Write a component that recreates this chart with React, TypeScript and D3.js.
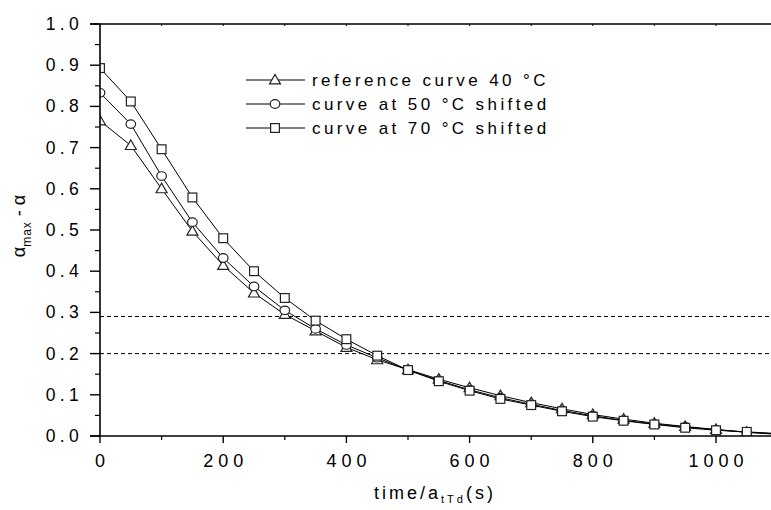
import React from "react";
import * as d3 from "d3";

// time / a_tTd (s)
const times = [0, 50, 100, 150, 200, 250, 300, 350, 400, 450, 500, 550, 600, 650, 700, 750, 800, 850, 900, 950, 1000, 1050, 1100];
// alpha_max - alpha for each curve
const ref40 = [0.765, 0.705, 0.6, 0.497, 0.414, 0.347, 0.295, 0.255, 0.215, 0.185, 0.161, 0.138, 0.117, 0.098, 0.081, 0.066, 0.052, 0.041, 0.031, 0.023, 0.016, 0.009, 0.004];
const shift50 = [0.833, 0.757, 0.631, 0.519, 0.432, 0.363, 0.305, 0.26, 0.221, 0.19, 0.16, 0.135, 0.112, 0.093, 0.077, 0.062, 0.049, 0.038, 0.029, 0.022, 0.015, 0.009, 0.005];
const shift70 = [0.893, 0.812, 0.696, 0.579, 0.48, 0.4, 0.335, 0.28, 0.235, 0.195, 0.16, 0.133, 0.11, 0.09, 0.075, 0.06, 0.047, 0.037, 0.028, 0.02, 0.014, 0.01, 0.006];
const seriesNames = ["reference curve 40 °C", "curve at 50 °C shifted", "curve at 70 °C shifted"];
const seriesShapes = ["triangle", "circle", "square"];
const refLevels = [0.29, 0.2];
const xTickValues = [0, 200, 400, 600, 800, 1000];
const yTickValues = [0, 0.1, 0.2, 0.3, 0.4, 0.5, 0.6, 0.7, 0.8, 0.9, 1.0];

const W = 771;
const H = 510;
const left = 100;
const top = 24;
const bottom = 436;

const x = d3.scaleLinear().domain([0, 1100]).range([left, left + 1100 * 0.616]);
const y = d3.scaleLinear().domain([0, 1]).range([bottom, top]);

const font = "'Liberation Sans', Arial, sans-serif";

function Marker({ shape, cx, cy }: { shape: string; cx: number; cy: number }) {
  const st = { fill: "#fff", stroke: "#222", strokeWidth: 1.2 };
  if (shape === "circle") return <ellipse cx={cx} cy={cy} rx={4.8} ry={4.3} {...st} />;
  if (shape === "square") return <rect x={cx - 4.4} y={cy - 4.4} width={8.8} height={8.8} {...st} />;
  const p = d3.symbol(d3.symbolTriangle, 52)();
  return <path d={p || ""} transform={`translate(${cx},${cy + 0.8})`} {...st} />;
}

export default function App() {
  const series = [ref40, shift50, shift70];
  const line = d3
    .line<number>()
    .x((_, i) => x(times[i]))
    .y((d) => y(d));
  const xMinor = d3.range(100, 1101, 200);
  const yMinor = d3.range(0.05, 1, 0.1);
  const topTicks = d3.range(100, 1101, 100);

  return (
    <svg width={W} height={H} style={{ position: "absolute", left: 0, top: 0, background: "#fff" }}>
      <defs>
        <clipPath id="plot">
          <rect x={left} y={top - 6} width={W - left} height={bottom - top + 6} />
        </clipPath>
      </defs>

      {/* reference levels */}
      {refLevels.map((v) => (
        <line key={v} x1={left} x2={W} y1={y(v)} y2={y(v)} stroke="#000" strokeWidth={1} strokeDasharray="4,3" />
      ))}

      {/* curves */}
      <g clipPath="url(#plot)">
        {series.map((s, k) => (
          <path key={k} d={line(s) || ""} fill="none" stroke="#000" strokeWidth={1} />
        ))}
        {series.map((s, k) => (
          <g key={k}>
            {s.map((v, i) => (
              <Marker key={i} shape={seriesShapes[k]} cx={x(times[i])} cy={y(v)} />
            ))}
          </g>
        ))}
      </g>

      {/* axes */}
      <line x1={left - 10} x2={W} y1={top} y2={top} stroke="#000" strokeWidth={1.6} />
      {topTicks.map((v) => (
        <line key={v} x1={x(v)} x2={x(v)} y1={top} y2={top + 2} stroke="#000" strokeWidth={1} />
      ))}
      <line x1={left} x2={left} y1={top} y2={bottom} stroke="#000" strokeWidth={1.6} />
      <line x1={left - 10} x2={W} y1={bottom} y2={bottom} stroke="#000" strokeWidth={1.6} />

      {yTickValues.map((v) => (
        <g key={v}>
          <line x1={left - 10} x2={left} y1={y(v)} y2={y(v)} stroke="#000" strokeWidth={1.4} />
          <text
            x={83}
            y={y(v) + 6}
            textAnchor="end"
            fontFamily={font}
            fontSize={17.5}
            letterSpacing={4.3}
            fill="#000"
          >
            {d3.format(".1f")(v)}
          </text>
        </g>
      ))}
      {yMinor.map((v) => (
        <line key={v} x1={left - 5} x2={left} y1={y(v)} y2={y(v)} stroke="#000" strokeWidth={1.2} />
      ))}

      {xTickValues.map((v) => (
        <g key={v}>
          <line x1={x(v)} x2={x(v)} y1={bottom} y2={bottom + 7} stroke="#000" strokeWidth={1.4} />
          <text
            x={x(v) + 2.5}
            y={467}
            textAnchor="middle"
            fontFamily={font}
            fontSize={18}
            letterSpacing={5}
            fill="#000"
          >
            {v}
          </text>
        </g>
      ))}
      {xMinor.map((v) => (
        <line key={v} x1={x(v)} x2={x(v)} y1={bottom} y2={bottom + 4} stroke="#000" strokeWidth={1.2} />
      ))}

      {/* axis titles */}
      <text x={374} y={499} fontFamily={font} fontSize={18} letterSpacing={3} fill="#000">
        time/a
        <tspan fontSize={11} dy={4}>tTd</tspan>
        <tspan dy={-4}>(s)</tspan>
      </text>
      <text
        transform="translate(25,226) rotate(-90)"
        textAnchor="middle"
        fontFamily={font}
        fontSize={18}
        fill="#000"
      >
        α<tspan fontSize={12} dy={6} letterSpacing={1}>max</tspan>
        <tspan dy={-6}> - α</tspan>
      </text>

      {/* legend */}
      {seriesNames.map((name, k) => {
        const base = 86 + k * 24;
        const cy = base - 6;
        return (
          <g key={name}>
            <line x1={246} x2={305} y1={cy} y2={cy} stroke="#000" strokeWidth={1} />
            <Marker shape={seriesShapes[k]} cx={275} cy={cy} />
            <text x={312} y={base} fontFamily={font} fontSize={17} letterSpacing={3.4} fill="#000">
              {name}
            </text>
          </g>
        );
      })}
    </svg>
  );
}
